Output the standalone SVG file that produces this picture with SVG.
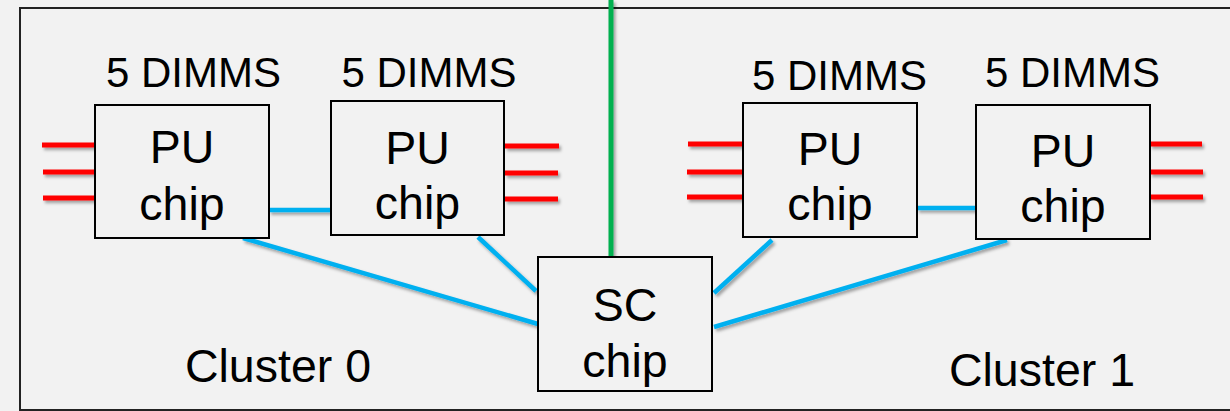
<svg xmlns="http://www.w3.org/2000/svg" width="1230" height="411" viewBox="0 0 1230 411">
<defs>
<filter id="sh" filterUnits="userSpaceOnUse" x="0" y="0" width="1230" height="411">
<feDropShadow dx="2" dy="2.5" stdDeviation="1.5" flood-color="#000" flood-opacity="0.35"/>
</filter>
<style>
.bg{fill:#f2f2f2}
.frame{fill:none;stroke:#222;stroke-width:2}
.chip{fill:#f2f2f2;stroke:#000;stroke-width:2}
.t{font-family:"Liberation Sans",Arial,sans-serif;fill:#000;text-anchor:middle}
.big{font-size:46.5px}
.dimm{font-size:42px}
.red{stroke:#ff0000;stroke-width:5;filter:url(#sh)}
.blue{stroke:#00b0f0;stroke-width:4.5;filter:url(#sh)}
.green{stroke:#00b050;stroke-width:5;filter:url(#sh)}
</style>
</defs>
<rect class="bg" x="0" y="0" width="1230" height="411"/>
<rect class="frame" x="20" y="8" width="1220" height="402"/>

<g id="connectors">
<line class="green" x1="611" y1="0" x2="611" y2="257"/>
<line class="red" x1="42" y1="145" x2="96" y2="145"/>
<line class="red" x1="43" y1="172" x2="96" y2="172"/>
<line class="red" x1="43" y1="198" x2="96" y2="198"/>
<line class="red" x1="505" y1="146" x2="559" y2="146"/>
<line class="red" x1="505" y1="173" x2="558" y2="173"/>
<line class="red" x1="505" y1="199" x2="558" y2="199"/>
<line class="red" x1="688" y1="144" x2="743" y2="144"/>
<line class="red" x1="687" y1="172" x2="743" y2="172"/>
<line class="red" x1="687" y1="197" x2="743" y2="197"/>
<line class="red" x1="1150" y1="144" x2="1202" y2="144"/>
<line class="red" x1="1150" y1="172" x2="1203" y2="172"/>
<line class="red" x1="1150" y1="197" x2="1203" y2="197"/>
<line class="blue" x1="269" y1="210" x2="331" y2="210"/>
<line class="blue" x1="917" y1="208" x2="978" y2="208"/>
<line class="blue" x1="243" y1="238" x2="538" y2="324"/>
<line class="blue" x1="478" y1="237" x2="536" y2="291"/>
<line class="blue" x1="772" y1="240" x2="714" y2="293"/>
<line class="blue" x1="1007" y1="240" x2="714" y2="327"/>
</g>

<g id="pu0">
<rect class="chip" x="95" y="105" width="174" height="133"/>
<text class="t dimm" x="193.5" y="87">5 DIMMS</text>
<text class="t big" x="182" y="163">PU</text>
<text class="t big" x="182" y="220">chip</text>
</g>
<g id="pu1">
<rect class="chip" x="331" y="101" width="173" height="134"/>
<text class="t dimm" x="429" y="87">5 DIMMS</text>
<text class="t big" x="417.5" y="164">PU</text>
<text class="t big" x="417.5" y="219">chip</text>
</g>
<g id="pu2">
<rect class="chip" x="743" y="103" width="174" height="134"/>
<text class="t dimm" x="839.5" y="90">5 DIMMS</text>
<text class="t big" x="830" y="165">PU</text>
<text class="t big" x="830" y="220">chip</text>
</g>
<g id="pu3">
<rect class="chip" x="976" y="105" width="174" height="134"/>
<text class="t dimm" x="1072.5" y="87">5 DIMMS</text>
<text class="t big" x="1063" y="167">PU</text>
<text class="t big" x="1063" y="222">chip</text>
</g>
<g id="sc">
<rect class="chip" x="538" y="257" width="174" height="134"/>
<text class="t big" x="625" y="321">SC</text>
<text class="t big" x="625" y="377">chip</text>
</g>
<g id="cluster0">
<text class="t big" x="278" y="382">Cluster 0</text>
</g>
<g id="cluster1">
<text class="t big" x="1042" y="386">Cluster 1</text>
</g>
</svg>
